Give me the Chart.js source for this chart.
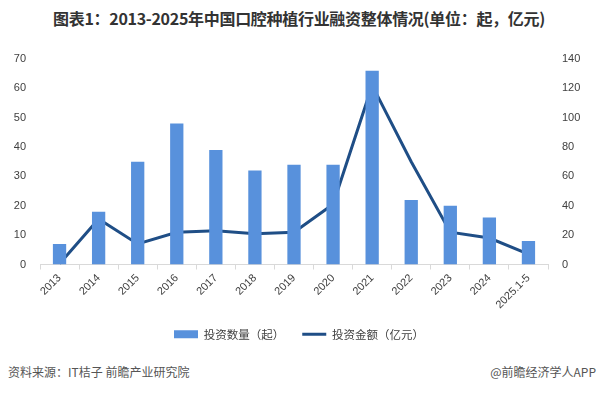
<!DOCTYPE html>
<html>
<head>
<meta charset="utf-8">
<script src="https://cdn.jsdelivr.net/npm/chart.js@4.4.1/dist/chart.umd.min.js"></script>
<style>
  body { margin: 0; width: 598px; height: 394px; background: #fff; position: relative; overflow: hidden; }
  #title { position: absolute; top: 6px; left: 0; width: 598px; text-align: center;
    font: bold 16px "Noto Sans CJK SC", sans-serif; color: #333; letter-spacing: -0.3px; }
  #wrap { position: absolute; left: 0; top: 40px; width: 598px; height: 310px; }
  .src { position: absolute; top: 363px; font: 12px "Noto Sans CJK SC", sans-serif; color: #555; }
</style>
</head>
<body>
<div id="title">图表1：2013-2025年中国口腔种植行业融资整体情况(单位：起，亿元)</div>
<div id="wrap"><canvas id="chart"></canvas></div>
<div class="src" style="left:8px">资料来源：IT桔子 前瞻产业研究院</div>
<div class="src" style="right:2px">@前瞻经济学人APP</div>
<script>
const years = ['2013', '2014', '2015', '2016', '2017', '2018', '2019', '2020', '2021', '2022', '2023', '2024', '2025.1-5'];
const dealCount = [7, 18, 35, 48, 39, 32, 34, 34, 66, 22, 20, 16, 8];
const dealAmount = [0.5, 31, 14, 22, 23, 21, 22, 41, 122, 70, 22, 18, 7];

const tickFont = { family: 'Liberation Sans', size: 11 };

new Chart(document.getElementById('chart'), {
  type: 'bar',
  data: {
    labels: years,
    datasets: [{
      label: '投资数量（起）',
      data: dealCount,
      backgroundColor: '#5891dc',
      barPercentage: 0.34,
      categoryPercentage: 1,
      pointStyle: 'rect',
      yAxisID: 'y'
    }, {
      type: 'line',
      label: '投资金额（亿元）',
      data: dealAmount,
      borderColor: '#1f4e86',
      backgroundColor: '#1f4e86',
      borderWidth: 3,
      pointRadius: 0,
      pointStyle: 'line',
      tension: 0,
      yAxisID: 'y1'
    }]
  },
  options: {
    responsive: true,
    maintainAspectRatio: false,
    animation: false,
    layout: { padding: { top: 19, bottom: 0, left: 0, right: 0 } },
    plugins: {
      legend: {
        position: 'bottom',
        labels: {
          usePointStyle: true,
          pointStyleWidth: 24,
          boxHeight: 8,
          padding: 18,
          color: '#404040',
          font: { family: 'Noto Sans CJK SC', size: 11.5 }
        }
      },
      tooltip: { enabled: false }
    },
    scales: {
      x: {
        grid: { display: true, offset: true, drawOnChartArea: false, tickLength: 5, color: '#d9d9d9' },
        border: { color: '#d9d9d9' },
        ticks: { color: '#404040', font: tickFont, minRotation: 45, maxRotation: 45, padding: 2 },
        afterFit: s => { s.height = 46; }
      },
      y: {
        position: 'left',
        min: 0, max: 70,
        ticks: { stepSize: 10, color: '#404040', font: tickFont, padding: 6 },
        grid: { display: false },
        border: { display: false },
        afterFit: s => { s.width = 40; }
      },
      y1: {
        position: 'right',
        min: 0, max: 140,
        ticks: { stepSize: 20, color: '#404040', font: tickFont, padding: 6 },
        grid: { display: false },
        border: { display: false },
        afterFit: s => { s.width = 50; }
      }
    }
  }
});
</script>
</body>
</html>
